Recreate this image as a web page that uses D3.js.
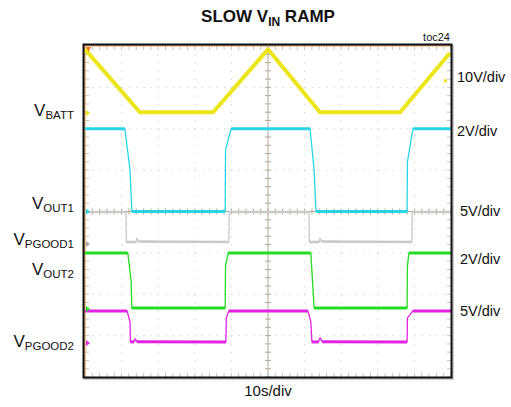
<!DOCTYPE html>
<html><head><meta charset="utf-8">
<script src="https://cdn.jsdelivr.net/npm/d3@7"></script>
<style>
html,body{margin:0;padding:0;background:#fff;}
svg{display:block;font-family:"Liberation Sans",Arial,sans-serif;}
</style></head>
<body><svg id="c" width="511" height="407"></svg>
<script>
// ---- data (time in s, values in volts) ----
const timeDomain = [0, 100];
const divDomain = [-4, 4];
const xMajorTicks = d3.range(0, 101, 10);
const yMajorTicks = d3.range(-4, 5, 1);

const vbattT = [0, 15.0, 35.0, 50.0, 64.2, 86.1, 99.7];
const vbattV = [15.4, 0.2, 0.2, 15.4, 0.2, 0.2, 14.5];

const vout1T = [0, 10.9, 12.3, 12.8, 38.3, 38.4, 39.9, 61.5, 62.6, 63.1, 88.0, 88.1, 89.6, 100];
const vout1V = [4.0, 4.0, 2.0, 0.0, 0.0, 2.97, 4.0, 4.0, 2.0, 0.0, 0.0, 2.4, 4.0, 4.0];

const pgood1T = [0, 11.2, 11.3, 14.0, 14.2, 14.6, 39.3, 39.4, 61.2, 61.3, 64.0, 64.2, 64.6, 89.3, 89.4, 100];
const pgood1V = [3.86, 3.86, 0.24, 0.24, 0.72, 0.3, 0.24, 3.86, 3.86, 0.24, 0.24, 0.72, 0.3, 0.24, 3.86, 3.86];

const vout2T = [0, 11.7, 12.6, 12.8, 38.3, 38.4, 39.1, 61.7, 62.6, 88.0, 88.1, 88.5, 100];
const vout2V = [2.71, 2.71, 1.35, 0.05, 0.05, 2.07, 2.71, 2.71, 0.05, 0.05, 2.07, 2.71, 2.71];

const pgood2T = [0, 11.5, 12.3, 12.4, 13.4, 13.7, 14.2, 38.5, 38.6, 39.3, 60.9, 61.7, 62.0, 63.8, 64.2, 64.8, 88.0, 88.1, 89.6, 100];
const pgood2V = [3.87, 3.87, 2.53, 0.12, 0.12, 0.5, 0.15, 0.12, 3.02, 3.87, 3.87, 2.53, 0.12, 0.12, 0.6, 0.15, 0.12, 3.02, 3.87, 3.87];

const channelNames = ["VBATT", "VOUT1", "VPGOOD1", "VOUT2", "VPGOOD2"];
const voltsPerDiv = [10, 2, 5, 2, 5];
const groundDiv = [2.38, 0, -0.785, -2.355, -3.176];
const scaleLabels = ["10V/div", "2V/div", "5V/div", "2V/div", "5V/div"];
const timeLabel = "10s/div";

// ---- layout ----
const svg = d3.select("#c");
const x = d3.scaleLinear().domain(timeDomain).range([85, 451]);
const y = d3.scaleLinear().domain(divDomain).range([377, 46]);
const colors = ["#ece51a", "#27d6e6", "#c9c9c9", "#22dd22", "#e322e3"];

// frame shadow
svg.append("rect").attr("x", 84.5).attr("y", 45.5).attr("width", 368.5).attr("height", 333.5)
  .attr("fill", "none").attr("stroke", "#999").attr("stroke-width", 1);

// grid
const minorX = (x(10) - x(0)) / 5, minorY = (y(0) - y(1)) / 5;
const g = svg.append("g");
xMajorTicks.filter(d => d > 0 && d < 100 && d !== 50).forEach(d => {
  g.append("line").attr("x1", x(d)).attr("x2", x(d)).attr("y1", y(4)).attr("y2", y(-4))
    .attr("stroke", "#c4c4c4").attr("stroke-width", 1).attr("stroke-dasharray", `1,${minorY - 1}`);
});
yMajorTicks.filter(d => d > -4 && d < 4 && d !== 0).forEach(d => {
  g.append("line").attr("x1", x(0)).attr("x2", x(100)).attr("y1", y(d)).attr("y2", y(d))
    .attr("stroke", "#c4c4c4").attr("stroke-width", 1).attr("stroke-dasharray", `1,${minorX - 1}`);
});
// center crosshair
const tan = "#b3a893";
g.append("line").attr("x1", x(50)).attr("x2", x(50)).attr("y1", y(4)).attr("y2", y(-4)).attr("stroke", tan);
g.append("line").attr("x1", x(0)).attr("x2", x(100)).attr("y1", y(0)).attr("y2", y(0)).attr("stroke", tan);
const minorXT = d3.range(0, 100.01, 2), minorYT = d3.range(-4, 4.01, 0.2);
minorXT.forEach(t => {
  g.append("line").attr("x1", x(t)).attr("x2", x(t)).attr("y1", y(0) - 3).attr("y2", y(0) + 3).attr("stroke", tan);
  g.append("line").attr("x1", x(t)).attr("x2", x(t)).attr("y1", y(4)).attr("y2", y(4) + 4).attr("stroke", "#c4c4c4");
  g.append("line").attr("x1", x(t)).attr("x2", x(t)).attr("y1", y(-4)).attr("y2", y(-4) - 4).attr("stroke", "#c4c4c4");
});
minorYT.forEach(v => {
  g.append("line").attr("x1", x(50) - 3).attr("x2", x(50) + 3).attr("y1", y(v)).attr("y2", y(v)).attr("stroke", tan);
  g.append("line").attr("x1", x(0)).attr("x2", x(0) + 4).attr("y1", y(v)).attr("y2", y(v)).attr("stroke", "#c4c4c4");
  g.append("line").attr("x1", x(100)).attr("x2", x(100) - 4).attr("y1", y(v)).attr("y2", y(v)).attr("stroke", "#c4c4c4");
});

// orange inner border (top & left)
svg.append("line").attr("x1", x(0)).attr("x2", x(100)).attr("y1", y(4)).attr("y2", y(4)).attr("stroke", "#f0a860").attr("stroke-width", 1.2);
svg.append("line").attr("x1", x(0)).attr("x2", x(0)).attr("y1", y(4)).attr("y2", y(-4)).attr("stroke", "#f0a860").attr("stroke-width", 1.2);

// traces: thin path for edges, thick strokes on slow (flat/ramp) segments
const series = [
  [vbattT, vbattV], [vout1T, vout1V], [pgood1T, pgood1V], [vout2T, vout2V], [pgood2T, pgood2V]
];
const widths = [4, 3, 2.6, 3, 3];
const order = [2, 4, 3, 1, 0];
const line = d3.line().x(d => x(d[0])).y(d => y(d[1]));
order.forEach(i => {
  const [T, V] = series[i];
  const pts = T.map((t, k) => [t, V[k] / voltsPerDiv[i] + groundDiv[i]]);
  svg.append("path").datum(pts).attr("d", line)
    .attr("fill", "none").attr("stroke", colors[i]).attr("stroke-width", i === 0 ? 4 : 1.3)
    .attr("stroke-linejoin", "round");
  if (i !== 0) {
    for (let k = 0; k < pts.length - 1; k++) {
      const dx = x(pts[k + 1][0]) - x(pts[k][0]);
      const dy = Math.abs(y(pts[k + 1][1]) - y(pts[k][1]));
      if (dy < dx * 0.6) {
        svg.append("path").datum([pts[k], pts[k + 1]]).attr("d", line)
          .attr("fill", "none").attr("stroke", colors[i]).attr("stroke-width", widths[i]);
      }
    }
  }
});

// ground markers
groundDiv.forEach((gd, i) => {
  const yy = y(gd);
  svg.append("path").attr("d", `M${x(0) + 1},${yy - 3}L${x(0) + 5},${yy}L${x(0) + 1},${yy + 3}Z`).attr("fill", colors[i] === "#c9c9c9" ? "#aaa" : colors[i]);
});
// trigger markers
svg.append("path").attr("d", `M${x(0) + 1},${y(4) + 1}L${x(0) + 6},${y(4) + 1}L${x(0) + 3.5},${y(4) + 6}Z`).attr("fill", "#f07a20");
svg.append("rect").attr("x", x(100) - 7).attr("y", y(3.16) - 1.5).attr("width", 3).attr("height", 3).attr("fill", colors[0]);

// frame
svg.append("rect").attr("x", 83.5).attr("y", 44.5).attr("width", 368).attr("height", 333)
  .attr("fill", "none").attr("stroke", "#111").attr("stroke-width", 2);

// title
const title = svg.append("text").attr("x", 268).attr("y", 22).attr("text-anchor", "middle")
  .attr("font-weight", "bold").attr("font-size", 17).attr("fill", "#111");
title.append("tspan").text("SLOW V");
title.append("tspan").attr("font-size", 12).attr("dy", 4).text("IN");
title.append("tspan").attr("dy", -4).text(" RAMP");

svg.append("text").attr("x", 450).attr("y", 41).attr("text-anchor", "end").attr("font-size", 11).attr("fill", "#111").text("toc24");

// left channel labels
const leftBase = [116, 209, 245, 275, 347];
channelNames.forEach((n, i) => {
  const t = svg.append("text").attr("x", 74).attr("y", leftBase[i]).attr("text-anchor", "end")
    .attr("font-size", 17).attr("fill", "#111");
  t.append("tspan").text(n[0]);
  t.append("tspan").attr("font-size", 11.5).attr("dy", 3).text(n.slice(1));
});
// right scale labels
const rightBase = [82, 136, 216, 264, 316];
const rightX = [457, 457, 460, 460, 460];
scaleLabels.forEach((s, i) => {
  svg.append("text").attr("x", rightX[i]).attr("y", rightBase[i]).attr("font-size", 14.5).attr("fill", "#111").text(s);
});
svg.append("text").attr("x", 268).attr("y", 396).attr("text-anchor", "middle").attr("font-size", 15).attr("fill", "#111").text(timeLabel);
</script></body></html>
